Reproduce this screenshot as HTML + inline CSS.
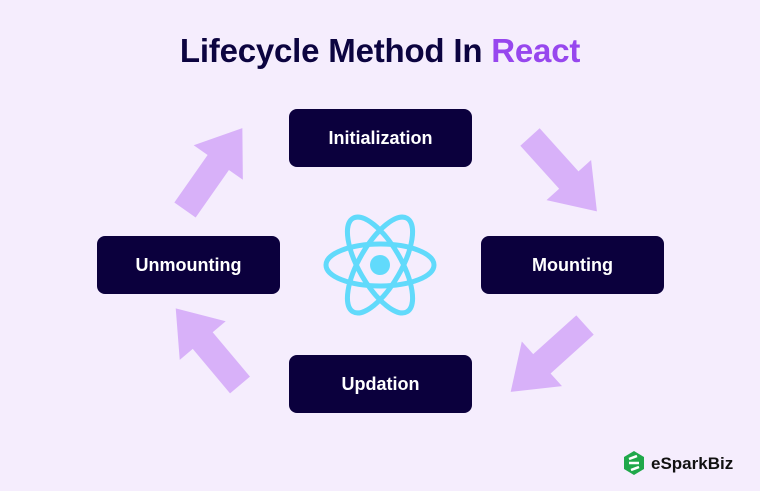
<!DOCTYPE html>
<html><head><style>
body{margin:0;width:760px;height:491px;background:#f5edfd;font-family:"Liberation Sans",sans-serif;position:relative;overflow:hidden}
.t{position:absolute;top:32px;left:0;width:760px;text-align:center;font-size:33px;font-weight:bold;color:#0c0440;letter-spacing:-0.2px}
.t span{color:#9747ee}
.b{position:absolute;width:183px;height:58px;background:#0b003d;border-radius:8px;color:#fff;font-size:18px;font-weight:bold;display:flex;align-items:center;justify-content:center}
</style></head><body>
<div class="t">Lifecycle Method In <span>React</span></div>
<svg width="760" height="491" style="position:absolute;left:0;top:0">
<defs><polygon id="ar" points="0,-13 58,-13 58,-30 100,0 58,30 58,13 0,13" fill="#d8b1f9"/></defs>
<use href="#ar" transform="translate(185,210) rotate(-55)"/>
<use href="#ar" transform="translate(530,137) rotate(48)"/>
<use href="#ar" transform="translate(585,325) rotate(138)"/>
<use href="#ar" transform="translate(240,385) rotate(230)"/>
<g transform="translate(380,265)" fill="none" stroke="#61dafb" stroke-width="5">
<ellipse rx="54" ry="21"/>
<ellipse rx="54" ry="21" transform="rotate(60)"/>
<ellipse rx="54" ry="21" transform="rotate(-60)"/>
<circle r="10" fill="#61dafb" stroke="none"/>
</g>
<g transform="translate(624,451)">
<polygon points="10,0 20,6 20,18 10,24 0,18 0,6" fill="#1fa84a"/>
<path d="M5,8 L13,5 M5,12 L15,12 M7,19 L15,16" stroke="#fff" stroke-width="2.5"/>
</g>
<text x="651" y="469" font-family="Liberation Sans" font-weight="bold" font-size="17" fill="#111">eSparkBiz</text>
</svg>
<div class="b" style="left:289px;top:109px">Initialization</div>
<div class="b" style="left:481px;top:236px">Mounting</div>
<div class="b" style="left:97px;top:236px">Unmounting</div>
<div class="b" style="left:289px;top:355px">Updation</div>
</body></html>
